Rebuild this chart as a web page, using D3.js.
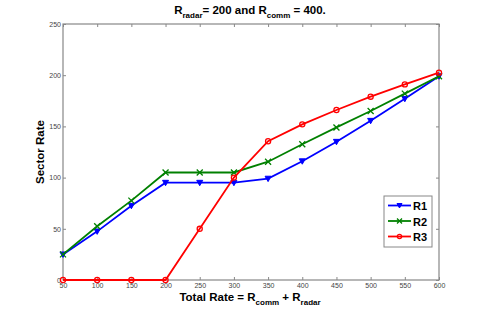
<!DOCTYPE html>
<html>
<head>
<meta charset="utf-8">
<script src="https://cdn.jsdelivr.net/npm/d3@7"></script>
<style>
body { margin: 0; background: #fff; }
text { font-family: Helvetica, "Liberation Sans", Arial, sans-serif; }
</style>
</head>
<body>
<div id="chart"></div>
<script>
var rates = [50, 100, 150, 200, 250, 300, 350, 400, 450, 500, 550, 600];
var r1 = [25, 47.5, 72.5, 95, 95, 95, 99, 116, 135, 155.5, 177, 199];
var r2 = [25, 52.5, 77.5, 105, 105, 105, 115.5, 132.5, 149, 165, 182, 199];
var r3 = [0, 0, 0, 0, 50, 100, 135.5, 152, 166, 179, 191, 202.5];
var seriesNames = ["R1", "R2", "R3"];
var yTicks = [0, 50, 100, 150, 200, 250];

var width = 485, height = 315;
var plotLeft = 63, plotRight = 439, plotTop = 24, plotBottom = 280;

var svg = d3.select("#chart").append("svg")
	.attr("width", width)
	.attr("height", height);

var x = d3.scaleLinear().domain([50, 600]).range([plotLeft, plotRight]);
var y = d3.scaleLinear().domain([0, 250]).range([plotBottom, plotTop]);

var axisColor = "#888";

// frame
svg.append("rect")
	.attr("x", plotLeft).attr("y", plotTop)
	.attr("width", plotRight - plotLeft).attr("height", plotBottom - plotTop)
	.style("fill", "none").style("stroke", axisColor).style("stroke-width", 1.2);

// ticks, inward on all four sides
var xAx = svg.append("g").attr("transform", "translate(0," + plotBottom + ")")
	.call(d3.axisBottom(x).tickValues(rates).tickSize(-3).tickPadding(5));
var xAxTop = svg.append("g").attr("transform", "translate(0," + plotTop + ")")
	.call(d3.axisTop(x).tickValues(rates).tickSize(-3).tickFormat(""));
var yAx = svg.append("g").attr("transform", "translate(" + plotLeft + ",0)")
	.call(d3.axisLeft(y).tickValues(yTicks).tickSize(-3).tickPadding(2));
var yAxR = svg.append("g").attr("transform", "translate(" + plotRight + ",0)")
	.call(d3.axisRight(y).tickValues(yTicks).tickSize(-3).tickFormat(""));

[xAx, xAxTop, yAx, yAxR].forEach(function(a) {
	a.select(".domain").remove();
	a.selectAll("line").style("stroke", axisColor);
	a.selectAll("text").style("font-size", "7px").style("fill", "#444");
});
xAx.selectAll("text").attr("dy", "0.35em").attr("y", 6);

var lineGen = d3.line()
	.x(function(d, i) { return x(rates[i]); })
	.y(function(d) { return y(d); });

var colors = ["#0000ff", "#008000", "#ff0000"];
var all = [r1, r2, r3];

function drawMarker(g, k, cx, cy, s) {
	if (k == 0) {
		g.append("path")
			.attr("d", "M" + (cx - s) + "," + (cy - s * 0.8) + "L" + (cx + s) + "," + (cy - s * 0.8) + "L" + cx + "," + (cy + s) + "Z")
			.style("fill", colors[k]).style("stroke", colors[k]).style("stroke-width", 1);
	} else if (k == 1) {
		g.append("path")
			.attr("d", "M" + (cx - s) + "," + (cy - s) + "L" + (cx + s) + "," + (cy + s) + "M" + (cx - s) + "," + (cy + s) + "L" + (cx + s) + "," + (cy - s))
			.style("stroke", colors[k]).style("stroke-width", 1.3);
	} else {
		g.append("circle")
			.attr("cx", cx).attr("cy", cy).attr("r", s * 0.85)
			.style("fill", "none").style("stroke", colors[k]).style("stroke-width", 1.3);
	}
}

all.forEach(function(vals, k) {
	var g = svg.append("g");
	g.append("path")
		.attr("d", lineGen(vals))
		.style("fill", "none")
		.style("stroke", colors[k])
		.style("stroke-width", 1.8);
	vals.forEach(function(v, i) {
		drawMarker(g, k, x(rates[i]), y(v), 3);
	});
});

// legend
var lx = 384, ly = 196, lw = 48, lh = 51;
svg.append("rect")
	.attr("x", lx).attr("y", ly).attr("width", lw).attr("height", lh)
	.style("fill", "#fff").style("stroke", "#888").style("stroke-width", 1);
seriesNames.forEach(function(n, k) {
	var yy = ly + 9.5 + k * 15.5;
	svg.append("line")
		.attr("x1", lx + 4).attr("x2", lx + 27)
		.attr("y1", yy).attr("y2", yy)
		.style("stroke", colors[k]).style("stroke-width", 1.8);
	drawMarker(svg, k, lx + 15.5, yy, 2.5);
	svg.append("text")
		.attr("x", lx + 29).attr("y", yy + 4.5)
		.style("font-size", "11px").style("font-weight", "bold")
		.text(n);
});

// title
var title = svg.append("text")
	.attr("x", 250).attr("y", 14)
	.attr("text-anchor", "middle")
	.style("font-size", "11.5px").style("font-weight", "bold");
title.append("tspan").text("R");
title.append("tspan").attr("dy", 4).style("font-size", "8px").text("radar");
title.append("tspan").attr("dy", -4).text("= 200 and R");
title.append("tspan").attr("dy", 4).style("font-size", "8px").text("comm");
title.append("tspan").attr("dy", -4).text(" = 400.");

// x label
var xl = svg.append("text")
	.attr("x", 250).attr("y", 301)
	.attr("text-anchor", "middle")
	.style("font-size", "11.5px").style("font-weight", "bold");
xl.append("tspan").text("Total Rate = R");
xl.append("tspan").attr("dy", 4).style("font-size", "8px").text("comm");
xl.append("tspan").attr("dy", -4).text(" + R");
xl.append("tspan").attr("dy", 4).style("font-size", "8px").text("radar");

// y label
svg.append("text")
	.attr("transform", "translate(44,152) rotate(-90)")
	.attr("text-anchor", "middle")
	.style("font-size", "11.5px").style("font-weight", "bold")
	.text("Sector Rate");
</script>
</body>
</html>
